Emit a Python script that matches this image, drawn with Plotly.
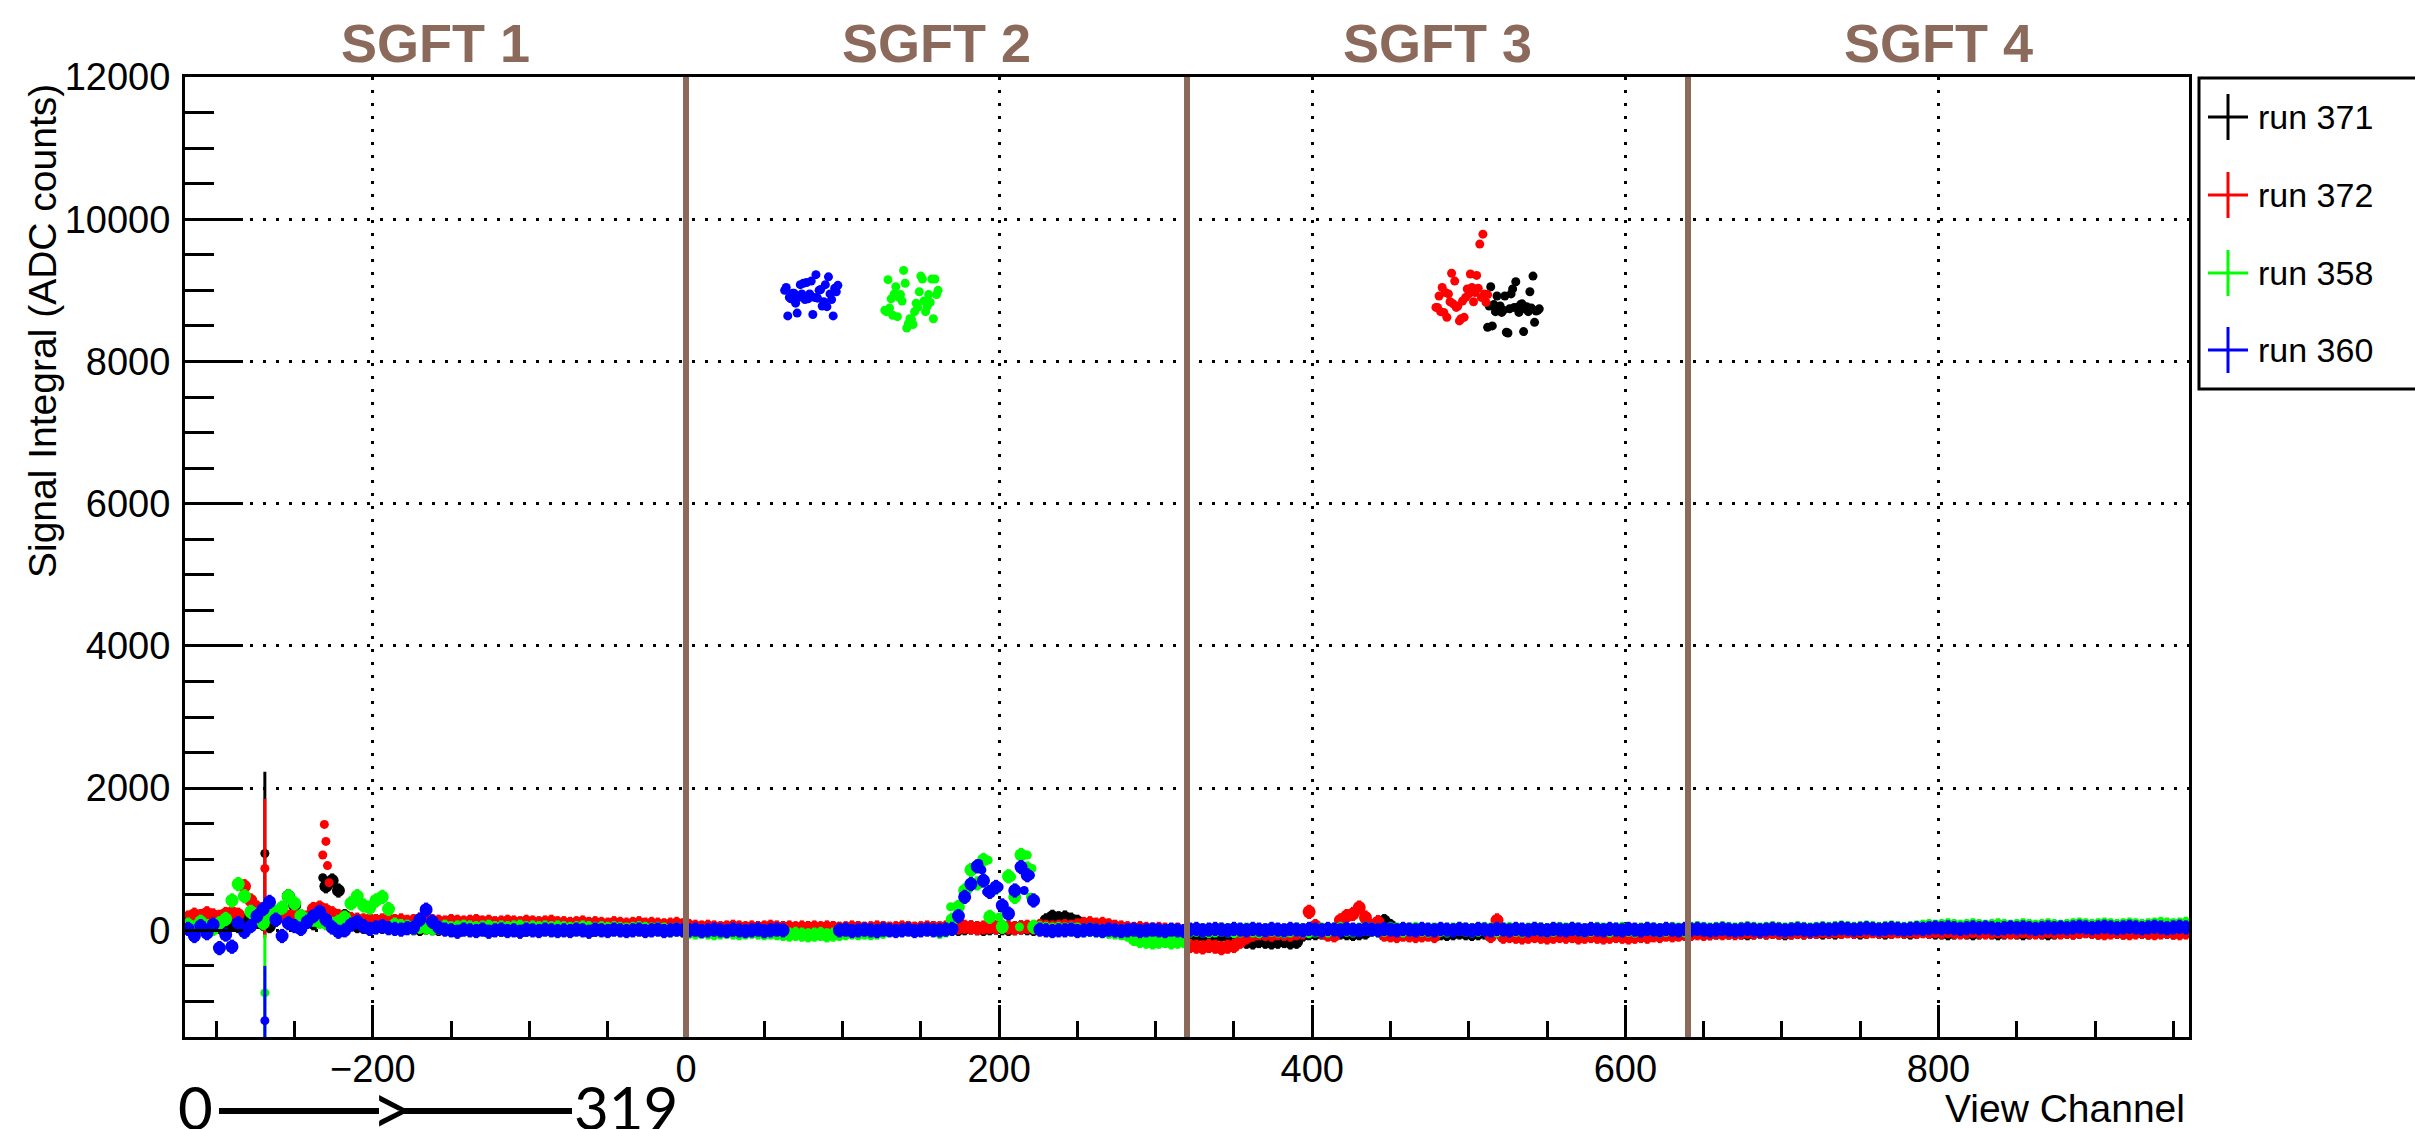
import plotly.graph_objects as go

# ---------------- data ----------------
RUNS = ["run 371", "run 372", "run 358", "run 360"]
COLORS = ["#000000", "#ff0000", "#00ff00", "#0000ff"]

X_RANGE = [-320, 960]
Y_RANGE = [-1500, 12000]
DIVIDERS = [0, 320, 640]
SECTIONS = ["SGFT 1", "SGFT 2", "SGFT 3", "SGFT 4"]
SECTION_CENTERS = [-160, 160, 480, 800]

# baseline read every 4th channel, from -318 to 958
BASE_CHANNELS = list(range(-318, 960, 4))

BLACK_BASE = (
    [40, 90, 60, 110, 70, 50, 120, 80, 60, 140, 180, 120, 90, 60, 150, 260, 480, 350, 200, 120]
    + [100, 150, 620, 700, 560, 200, 90, 60, 50, 40, 60, 50, 40, 30, 50, 40, 30, 20, 40, 30]
    + [20, 30, 10, 20, 30, 20, 10, 20, 30, 20, 10, 20, 30, 20, 10, 20, 30, 20, 10, 20]
    + [20, 10, 20, 30, 20, 10, 20, 10, 20, 30, 20, 10, 20, 10, 20, 30, 20, 10, 20, 10]
    + [20, 10, 30, 20, 10, 20, 30, 10, 20, 20, 10, 30, 20, 10, 20, 30, 20, 10, 20, 30]
    + [20, 10, 20, 30, 20, 10, 20, 30, 20, 10, 20, 30, 20, 10, 20, 30, 20, 10, 20, 30]
    + [20, 30, 40, 20, 30, 40, 30, 20, 30, 40, 30, 20, 30, 40, 30, 20, 50, 140, 190, 170]
    + [180, 150, 120, 80, 60, 50, 40, 30, 20, 10, 0, -20, -30, -40, -50, -40, -60, -50, -40, -50]
    + [-60, -70, -60, -80, -70, -60, -70, -80, -150, -160, -170, -150, -160, -170, -160, -150, -170, -160, -60, -40]
    + [-40, -30, -50, -40, -30, -40, -50, -40, -30, 20, 60, 130, 60, -20, -40, -50, -40, -30, -40, -50]
    + [-40, -50, -40, -30, -40, -50, -40, -30, None, None, None, None, None, None, None, None, -40, -30, -50, -40]
    + [-40, -30, -50, -40, -30, -40, -50, -40, -30, -40, -50, -40, -30, -40, -50, -40, -30, -40, -50, -40]
    + [-30, -20, -30, -40, -30, -20, -30, -20, -30, -40, -30, -20, -30, -20, -30, -40, -30, -20, -30, -20]
    + [-20, -30, -20, -30, -20, -10, -20, -30, -20, -10, -20, -30, -20, -10, -20, -30, -20, -10, -20, -30]
    + [-30, -40, -30, -20, -30, -40, -30, -20, -30, -40, -30, -20, -30, -40, -30, -20, -30, -40, -30, -20]
    + [-20, -30, -20, -10, -20, -30, -20, -10, -20, -30, -20, -10, -20, -30, -20, -10, -20, -30, -20, -10]
)

RED_BASE = (
    [180, 220, 200, 240, 210, 190, 230, 250, 220, 620, 420, 320, 240, 200, 230, 210, 190, 220, 200, 180]
    + [300, 320, 280, 240, 200, 170, 160, 150, 140, 150, 130, 140, 150, 130, 140, 120, 130, 150, 140, 130]
    + [120, 110, 130, 120, 110, 120, 130, 110, 120, 100, 110, 120, 110, 100, 120, 110, 100, 110, 120, 100]
    + [100, 90, 100, 110, 90, 100, 90, 80, 100, 90, 80, 90, 100, 80, 90, 80, 70, 80, 90, 70]
    + [60, 50, 40, 50, 40, 30, 40, 50, 40, 30, 40, 30, 40, 50, 40, 30, 40, 30, 40, 30]
    + [40, 30, 40, 30, 20, 30, 40, 30, 20, 30, 40, 30, 20, 30, 40, 30, 20, 30, 40, 30]
    + [30, 40, 50, 40, 50, 40, 30, 40, 50, 40, 50, 40, 30, 40, 50, 40, 60, 50, 40, 50]
    + [60, 50, 70, 90, 100, 80, 90, 70, 50, 40, 30, 20, 30, 20, 10, 20, 10, 0, 10, -20]
    + [-220, -230, -240, -220, -230, -250, -230, -220, -160, -100, -60, -40, -50, -60, -40, -50, -60, -40, -30, 260]
    + [60, -20, -60, -70, 140, 200, 230, 320, 180, 60, 115, -60, -70, -80, -60, -70, -80, -70, -60, -80]
    + [None, None, None, None, None, None, None, None, -80, 140, -90, -80, -90, -100, -90, -80, -90, -100, -90, -80]
    + [-90, -80, -100, -90, -80, -90, -100, -90, -80, -90, -100, -90, -80, -90, -70, -80, -60, -70, -60, -50]
    + [-50, -40, -50, -40, -30, -40, -30, -40, -30, -20, -30, -20, -30, -20, -30, -20, -30, -20, -30, -20]
    + [-20, -10, -20, -10, -20, -10, -20, -10, -20, -10, -20, -10, -20, -10, -20, -10, -20, -10, -20, -10]
    + [-20, -10, -20, -30, -20, -10, -20, -30, -20, -10, -20, -30, -20, -10, -20, -30, -20, -10, -20, -30]
    + [-20, -30, -20, -10, -20, -30, -40, -30, -20, -30, -40, -30, -20, -30, -40, -30, -20, -30, -40, -30]
)

GREEN_BASE = (
    [80, 40, 120, 60, 20, 100, 160, 420, 650, 480, 260, 180, 100, 200, 260, 320, 480, 380, 200, 150]
    + [150, 120, 100, 90, 120, 180, 380, 480, 350, 320, 420, 470, 300, 80, 60, 50, 40, 50, 40, 30]
    + [40, 50, 30, 40, 50, 40, 30, 40, 50, 30, 40, 30, 40, 50, 30, 40, 30, 40, 30, 40]
    + [30, 20, 30, 40, 30, 20, 30, 20, 30, 20, 10, 20, 30, 20, 10, 20, 10, 0, 10, 0]
    + [-20, -30, -20, -30, -40, -30, -20, -30, -40, -30, -20, -30, -40, -30, -40, -50, -60, -50, -60, -70]
    + [-60, -50, -70, -60, -50, -40, -30, -40, -30, -40, -30, -20, None, None, None, None, None, None, None, None]
    + [-20, 0, 150, 330, 560, 850, 660, 990, 190, 600, 50, 760, 470, 1060, 870, 50, 30, 20, 10, 20]
    + [10, 20, 10, 0, 10, 0, -10, -20, -30, -40, -60, -120, -150, -160, -170, -160, -150, -170, -160, -150]
    + [0, 10, 0, -10, 0, 10, 0, -10, 0, 10, 0, -10, 0, 10, 0, -10, 0, 10, 0, -10]
    + [0, 10, 0, 10, 20, 10, 0, 10, 20, 10, 0, 10, 20, 10, 0, 10, 20, 10, 0, 10]
    + [10, 0, 10, 20, 10, 0, 10, 20, 10, 0, 10, 20, 10, 0, 10, 20, 10, 0, 10, 20]
    + [10, 20, 10, 0, 10, 20, 10, 0, 10, 20, 10, 0, 10, 20, 10, 0, 10, 20, 10, 0]
    + [20, 30, 20, 10, 20, 30, 20, 10, 20, 30, 20, 10, 20, 30, 20, 10, 20, 30, 20, 10]
    + [20, 30, 20, 30, 40, 30, 20, 30, 40, 30, 20, 30, 40, 30, 20, 30, 40, 50, 60, 50]
    + [60, 70, 60, 50, 60, 70, 60, 50, 60, 70, 60, 50, 60, 70, 60, 50, 60, 70, 60, 50]
    + [60, 70, 80, 70, 60, 70, 80, 70, 60, 70, 80, 70, 60, 70, 80, 90, 80, 70, 80, 90]
)

BLUE_BASE = (
    [20, -80, 60, -40, 80, -250, -60, -230, 100, -20, 60, 200, 300, 400, 150, -80, 100, 60, 20, 120]
    + [200, 260, 150, 40, -20, 0, 80, 120, 60, 20, 40, 60, 30, 20, 10, 30, 40, 150, 290, 120]
    + [40, 10, 0, -20, 10, 0, -10, 10, -20, 0, 10, -10, 0, -20, 10, 0, -10, 10, 0, -10]
    + [0, -10, 10, 0, -20, 10, 0, -10, 10, 0, -10, 0, 10, -10, 0, 10, -10, 0, 10, 0]
    + [0, 10, -10, 0, 10, 0, -10, 10, 0, -10, 0, 10, -10, 0, 10, 0, None, None, None, None]
    + [None, None, None, None, 0, 10, -10, 0, 10, 0, -10, 10, 0, -10, 0, 10, -10, 0, 10, 0]
    + [0, 10, 20, 200, 470, 650, 900, 700, 540, 610, 350, 235, 560, 890, 775, 420, 10, 0, -10, 0]
    + [0, 10, -10, 0, 10, 0, -10, 10, 0, -10, 0, 10, -10, 0, 10, 0, -10, 10, 0, -10]
    + [10, 20, 0, 10, 20, 10, 0, 20, 10, 0, 20, 10, 0, 20, 10, 0, 20, 10, 0, 20]
    + [10, 0, 20, 10, 0, 20, 10, 0, 20, 10, 0, 20, 10, 0, 20, 10, 0, 20, 10, 0]
    + [20, 10, 0, 20, 10, 0, 20, 10, 0, 20, 10, 0, 20, 10, 0, 20, 10, 0, 20, 10]
    + [0, 20, 10, 0, 20, 10, 0, 20, 10, 0, 20, 10, 0, 20, 10, 0, 20, 10, 0, 20]
    + [10, 20, 10, 0, 10, 20, 10, 0, 10, 20, 10, 0, 10, 20, 10, 0, 10, 20, 10, 0]
    + [10, 20, 10, 20, 30, 20, 10, 20, 30, 20, 10, 20, 30, 20, 10, 20, 30, 20, 30, 40]
    + [30, 40, 30, 20, 30, 40, 30, 40, 30, 20, 30, 40, 30, 40, 30, 20, 30, 40, 30, 40]
    + [30, 40, 50, 40, 30, 40, 50, 40, 30, 40, 50, 40, 30, 40, 50, 40, 30, 40, 50, 40]
)

# signal clusters (one value per channel)
BLACK_CL_CH = list(range(512, 546))
BLACK_CL = [8480, 8780, 9050, 8500, 8800, 8700, 8920, 8760, 8780, 8690, 8720, 8920, 8410, 8400,
            8740, 8950, 9020, 8760, 9120, 8760, 8690, 8800, 8810, 8420, 8740, 8770, 8700, 8980,
            8750, 9200, 8550, 8710, 8720, 8740]
RED_CL_CH = list(range(479, 513))
RED_CL = [8760, 8760, 8920, 8700, 9040, 8690, 8970, 8620, 8950, 8840, 9240, 8810, 9130, 8760,
          8780, 8570, 8600, 8850, 8620, 8900, 9020, 8950, 9230, 9040, 8840, 8970, 9210, 9030,
          9650, 8900, 9790, 8950, 8830, 8940]
GREEN_CL_CH = list(range(127, 162))
GREEN_CL = [8720, 8700, 9150, 8750, 8880, 8650, 8950, 9050, 8630, 8900, 8940, 8850, 9280, 9100,
            8470, 8530, 8600, 8590, 8520, 8700, 8820, 8760, 8980, 9200, 9160, 8850, 8700, 8770,
            8940, 8830, 9160, 8600, 9160, 8940, 9000]
BLUE_CL_CH = list(range(63, 98))
BLUE_CL = [9000, 9040, 8640, 8900, 8880, 8960, 8960, 8820, 8680, 8900, 9080, 8950, 9100, 8870,
           9110, 8880, 8950, 9130, 8660, 8900, 9220, 8890, 9000, 9010, 8780, 8840, 9080, 8770,
           9190, 8950, 8870, 8640, 9030, 8980, 9070]

# isolated points with their own error bars
BLACK_EX_X = [-269, -232]
BLACK_EX_Y = [1080, 740]
BLACK_EX_E = [1150, 40]
RED_EX_X = [-269, -232, -231, -230, -229, -228]
RED_EX_Y = [870, 1060, 1490, 1250, 910, 670]
RED_EX_E = [980, 40, 40, 40, 40, 40]
GREEN_EX_X = [-269, 169, 180, 182, 187, 193, 200, 208, 213, 218, 220, 221]
GREEN_EX_Y = [-880, 330, 564, 846, 658, 987, 188, 752, 47, 1058, 470, 870]
GREEN_EX_E = [820, 40, 40, 40, 40, 40, 40, 40, 40, 40, 40, 40]
BLUE_EX_X = [-269, 177, 187, 189, 190, 192, 195, 200, 203, 206, 213, 216, 220, 221]
BLUE_EX_Y = [-1270, 470, 940, 850, 700, 540, 560, 610, 350, 235, 890, 560, 775, 420]
BLUE_EX_E = [770, 40, 40, 40, 40, 40, 40, 40, 40, 40, 40, 40, 40, 40]

BASE_ERR = 100
CL_ERR = 45

SERIES = [
    (BLACK_BASE, BLACK_CL_CH, BLACK_CL, BLACK_EX_X, BLACK_EX_Y, BLACK_EX_E),
    (RED_BASE, RED_CL_CH, RED_CL, RED_EX_X, RED_EX_Y, RED_EX_E),
    (GREEN_BASE, GREEN_CL_CH, GREEN_CL, GREEN_EX_X, GREEN_EX_Y, GREEN_EX_E),
    (BLUE_BASE, BLUE_CL_CH, BLUE_CL, BLUE_EX_X, BLUE_EX_Y, BLUE_EX_E),
]

# ---------------- layout constants ----------------
FONT = "Liberation Sans, Arial, Helvetica, sans-serif"
BROWN = "#8b6a5b"
W, H = 2415, 1129
ML, MR, MT, MB = 185, 226, 77, 92
PW, PH = W - ML - MR, H - MT - MB


def pxx(X):
    return (X - ML) / PW


def pxy(Y):
    return (H - MB - Y) / PH


fig = go.Figure()

for (base, cl_ch, cl, ex_x, ex_y, ex_e), name, col in zip(SERIES, RUNS, COLORS):
    assert len(base) == len(BASE_CHANNELS), (name, len(base))
    assert len(cl) == len(cl_ch), (name, len(cl))
    lo, hi = min(cl_ch), max(cl_ch)
    bx, by = [], []
    for c, v in zip(BASE_CHANNELS, base):
        if v is None or lo <= c <= hi:
            continue
        bx.append(c)
        by.append(v)
    fig.add_trace(go.Scatter(
        x=bx, y=by, mode="markers", name=name, legendgroup=name, showlegend=False,
        marker=dict(color=col, size=13, line=dict(width=0)),
        error_y=dict(type="constant", value=BASE_ERR, color=col, thickness=4, width=0),
    ))
    fig.add_trace(go.Scatter(
        x=cl_ch, y=cl, mode="markers", name=name, legendgroup=name, showlegend=False,
        marker=dict(color=col, size=9, line=dict(width=0)),
        error_y=dict(type="constant", value=CL_ERR, color=col, thickness=3, width=0),
    ))
    fig.add_trace(go.Scatter(
        x=ex_x, y=ex_y, mode="markers", name=name, legendgroup=name, showlegend=False,
        marker=dict(color=col, size=9, line=dict(width=0)),
        error_y=dict(type="data", array=ex_e, color=col, thickness=3, width=0),
    ))

shapes = []
for d in DIVIDERS:
    shapes.append(dict(type="line", xref="x", yref="paper", x0=d, x1=d, y0=0, y1=1,
                       line=dict(color=BROWN, width=6), layer="above"))

# legend box (ROOT-style, drawn by hand)
shapes.append(dict(type="rect", xref="paper", yref="paper",
                   x0=pxx(2199), x1=pxx(2418), y0=pxy(389), y1=pxy(78),
                   line=dict(color="black", width=3), fillcolor="white", layer="above"))
annotations = []
LEG_Y = [117, 195, 273, 350]
for yy, name, col in zip(LEG_Y, RUNS, COLORS):
    shapes.append(dict(type="line", xref="paper", yref="paper",
                       x0=pxx(2208), x1=pxx(2248), y0=pxy(yy), y1=pxy(yy),
                       line=dict(color=col, width=3), layer="above"))
    shapes.append(dict(type="line", xref="paper", yref="paper",
                       x0=pxx(2228), x1=pxx(2228), y0=pxy(yy + 23), y1=pxy(yy - 23),
                       line=dict(color=col, width=3), layer="above"))
    annotations.append(dict(text=name, xref="paper", yref="paper", x=pxx(2256), y=pxy(yy),
                            xanchor="left", yanchor="middle", showarrow=False,
                            font=dict(family=FONT, size=34, color="black")))

for lab, cx in zip(SECTIONS, SECTION_CENTERS):
    annotations.append(dict(text="<b>%s</b>" % lab, xref="x", yref="paper", x=cx, y=pxy(43),
                            xanchor="center", yanchor="middle", showarrow=False,
                            font=dict(family=FONT, size=54, color=BROWN)))

annotations.append(dict(text="Signal Integral (ADC counts)", xref="paper", yref="paper",
                        x=pxx(42), y=pxy(82), xanchor="center", yanchor="top", textangle=-90,
                        showarrow=False, font=dict(family=FONT, size=39, color="black")))
annotations.append(dict(text="View Channel", xref="paper", yref="paper",
                        x=pxx(2187), y=pxy(1108), xanchor="right", yanchor="middle",
                        showarrow=False, font=dict(family=FONT, size=39, color="black")))

# "0 ----> ---- 319" note under SGFT 1
NOTE_FONT = "Gill Sans, Lato, sans-serif"
NOTE_Y = 1111
for txt, X, sz in [("0", 195, 60), (">", 392, 72), ("319", 626, 60)]:
    annotations.append(dict(text=txt, xref="paper", yref="paper", x=pxx(X), y=pxy(NOTE_Y - 4),
                            xanchor="center", yanchor="middle", showarrow=False,
                            font=dict(family=NOTE_FONT, size=sz, color="black")))
for x0, x1 in [(219, 379), (403, 572)]:
    shapes.append(dict(type="line", xref="paper", yref="paper", x0=pxx(x0), x1=pxx(x1),
                       y0=pxy(NOTE_Y), y1=pxy(NOTE_Y), line=dict(color="black", width=6)))

axis_common = dict(
    showline=True, linecolor="black", linewidth=3, mirror=True,
    ticks="inside", tickcolor="black", tickwidth=3,
    showgrid=True, gridcolor="black", gridwidth=3, griddash="3px,10px",
    zeroline=False, tickformat="d",
    tickfont=dict(family=FONT, size=38, color="black"),
)

fig.update_layout(
    width=W, height=H,
    margin=dict(l=ML, r=MR, t=MT, b=MB, pad=0),
    paper_bgcolor="white", plot_bgcolor="white",
    showlegend=False,
    xaxis=dict(range=X_RANGE, tick0=0, dtick=200, ticklen=32, ticklabelstandoff=-4,
               minor=dict(dtick=50, ticks="inside", ticklen=16, tickwidth=3, tickcolor="black",
                          showgrid=False),
               **axis_common),
    yaxis=dict(range=Y_RANGE, tick0=0, dtick=2000, ticklen=58, ticklabelstandoff=4,
               minor=dict(dtick=500, ticks="inside", ticklen=29, tickwidth=3, tickcolor="black",
                          showgrid=False),
               **axis_common),
    shapes=shapes,
    annotations=annotations,
)

fig.write_html("out.html", config={"displayModeBar": False},
               post_script="document.body.style.margin='0px';document.body.style.overflow='hidden';")
